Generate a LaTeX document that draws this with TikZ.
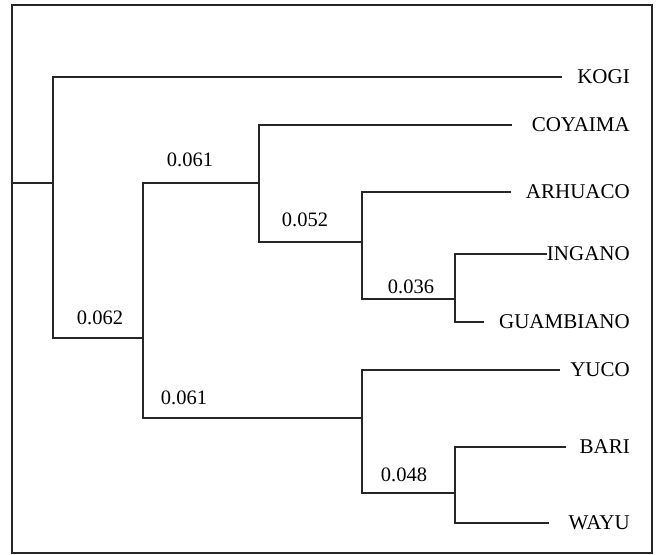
\documentclass[tikz,border=0pt]{standalone}
\usepackage{fontspec}
\setmainfont{Liberation Serif}
\begin{document}
\begin{tikzpicture}[x=1pt,y=-1pt,
  branch/.style={line width=1.1pt,black!85},
  leaf/.style={anchor=east,inner sep=0pt,font=\fontsize{21}{23}\selectfont},
  dist/.style={inner sep=0pt,font=\fontsize{20.5}{22}\selectfont}]
\useasboundingbox (0,0) rectangle (657,555);
\draw[line width=1.8pt,black!85] (12,5) rectangle (652,553);
% internal nodes
\coordinate (stem) at (12,183);
\coordinate (A) at (53,183);
\coordinate (B) at (143,338);
\coordinate (C) at (259,183);
\coordinate (D) at (362,242);
\coordinate (E) at (455,299);
\coordinate (F) at (362,418);
\coordinate (G) at (455,493);
% leaf line ends
\coordinate (lkogi) at (562,77);
\coordinate (lcoy) at (512,125);
\coordinate (larh) at (511,192);
\coordinate (ling) at (547,254);
\coordinate (lgua) at (484,322);
\coordinate (lyuc) at (560,370);
\coordinate (lbar) at (566,447);
\coordinate (lway) at (549,523);
% leaf labels
\node[leaf] (kogi) at (630,77) {KOGI};
\node[leaf] (coy) at (630,125) {COYAIMA};
\node[leaf] (arh) at (630,192) {ARHUACO};
\node[leaf] (ing) at (630,254) {INGANO};
\node[leaf] (gua) at (630,322) {GUAMBIANO};
\node[leaf] (yuc) at (630,370) {YUCO};
\node[leaf] (bar) at (630,447) {BARI};
\node[leaf] (way) at (630,523) {WAYU};
% branches
\draw[branch] (stem) -- (A);
\draw[branch] (A) |- (lkogi);
\draw[branch] (A) |- (B);
\draw[branch] (B) |- (C);
\draw[branch] (B) |- (F);
\draw[branch] (C) |- (lcoy);
\draw[branch] (C) |- (D);
\draw[branch] (D) |- (larh);
\draw[branch] (D) |- (E);
\draw[branch] (E) |- (ling);
\draw[branch] (E) |- (lgua);
\draw[branch] (F) |- (lyuc);
\draw[branch] (F) |- (G);
\draw[branch] (G) |- (lbar);
\draw[branch] (G) |- (lway);
% distance labels
\node[dist] (dC) at (190,160) {0.061};
\node[dist] (dD) at (305,220) {0.052};
\node[dist] (dE) at (411,287) {0.036};
\node[dist] (dB) at (100,318) {0.062};
\node[dist] (dF) at (184,398) {0.061};
\node[dist] (dG) at (404,475) {0.048};
\end{tikzpicture}
\end{document}
